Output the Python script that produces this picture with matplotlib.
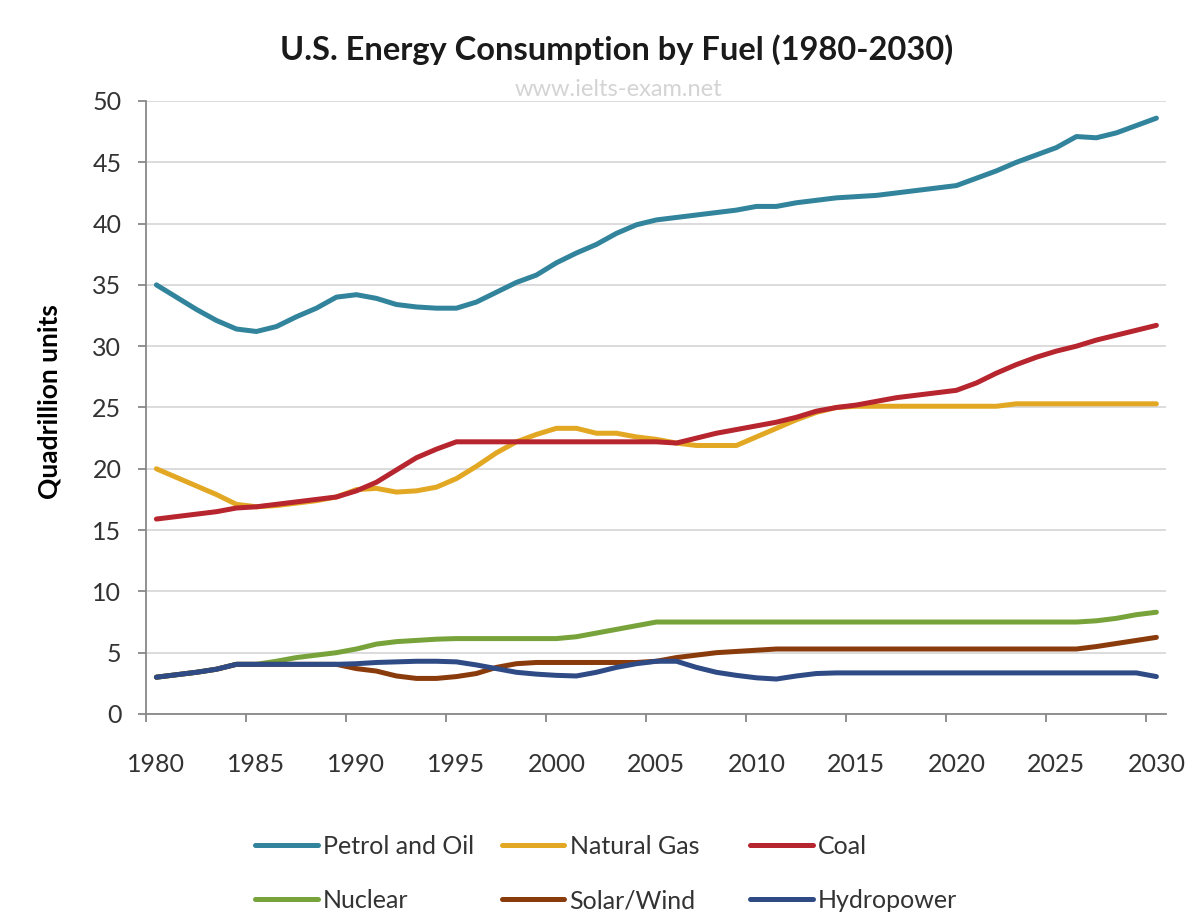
import numpy as np
import matplotlib
matplotlib.use("Agg")
import matplotlib.pyplot as plt
from matplotlib.ticker import MultipleLocator, FixedLocator

plt.rcParams["font.family"] = ["Lato", "DejaVu Sans"]

# Data (quadrillion units, one value per year)
years = list(range(1980, 2031))

petrol = [35.0, 34.0, 33.0, 32.1, 31.4, 31.2, 31.6, 32.4, 33.1, 34.0,
          34.2, 33.9, 33.4, 33.2, 33.1, 33.1, 33.6, 34.4, 35.2, 35.8,
          36.8, 37.6, 38.3, 39.2, 39.9, 40.3, 40.5, 40.7, 40.9, 41.1,
          41.4, 41.4, 41.7, 41.9, 42.1, 42.2, 42.3, 42.5, 42.7, 42.9,
          43.1, 43.7, 44.3, 45.0, 45.6, 46.2, 47.1, 47.0, 47.4, 48.0,
          48.6]
natural_gas = [20.0, 19.3, 18.6, 17.9, 17.1, 16.9, 17.0, 17.2, 17.4, 17.7,
               18.3, 18.4, 18.1, 18.2, 18.5, 19.2, 20.2, 21.3, 22.2, 22.8,
               23.3, 23.3, 22.9, 22.9, 22.6, 22.4, 22.1, 21.9, 21.9, 21.9,
               22.6, 23.3, 24.0, 24.6, 25.0, 25.1, 25.1, 25.1, 25.1, 25.1,
               25.1, 25.1, 25.1, 25.3, 25.3, 25.3, 25.3, 25.3, 25.3, 25.3,
               25.3]
coal = [15.9, 16.1, 16.3, 16.5, 16.8, 16.9, 17.1, 17.3, 17.5, 17.7,
        18.2, 18.9, 19.9, 20.9, 21.6, 22.2, 22.2, 22.2, 22.2, 22.2,
        22.2, 22.2, 22.2, 22.2, 22.2, 22.2, 22.1, 22.5, 22.9, 23.2,
        23.5, 23.8, 24.2, 24.7, 25.0, 25.2, 25.5, 25.8, 26.0, 26.2,
        26.4, 27.0, 27.8, 28.5, 29.1, 29.6, 30.0, 30.5, 30.9, 31.3,
        31.7]
nuclear = [3.0, 3.2, 3.4, 3.65, 4.05, 4.05, 4.3, 4.6, 4.8, 5.0,
           5.3, 5.7, 5.9, 6.0, 6.1, 6.15, 6.15, 6.15, 6.15, 6.15,
           6.15, 6.3, 6.6, 6.9, 7.2, 7.5, 7.5, 7.5, 7.5, 7.5,
           7.5, 7.5, 7.5, 7.5, 7.5, 7.5, 7.5, 7.5, 7.5, 7.5,
           7.5, 7.5, 7.5, 7.5, 7.5, 7.5, 7.5, 7.6, 7.8, 8.1,
           8.3]
solar_wind = [3.0, 3.2, 3.4, 3.65, 4.05, 4.05, 4.05, 4.05, 4.05, 4.05,
              3.7, 3.5, 3.1, 2.9, 2.9, 3.05, 3.3, 3.8, 4.1, 4.2,
              4.2, 4.2, 4.2, 4.2, 4.2, 4.3, 4.6, 4.8, 5.0, 5.1,
              5.2, 5.3, 5.3, 5.3, 5.3, 5.3, 5.3, 5.3, 5.3, 5.3,
              5.3, 5.3, 5.3, 5.3, 5.3, 5.3, 5.3, 5.5, 5.75, 6.0,
              6.25]
hydro = [3.0, 3.2, 3.4, 3.65, 4.05, 4.05, 4.05, 4.05, 4.05, 4.05,
         4.1, 4.2, 4.25, 4.3, 4.3, 4.25, 4.0, 3.7, 3.4, 3.25,
         3.15, 3.1, 3.4, 3.8, 4.1, 4.3, 4.3, 3.8, 3.4, 3.15,
         2.95, 2.85, 3.1, 3.3, 3.35, 3.35, 3.35, 3.35, 3.35, 3.35,
         3.35, 3.35, 3.35, 3.35, 3.35, 3.35, 3.35, 3.35, 3.35, 3.35,
         3.05]

series = [
    ("Petrol and Oil", petrol, "#31849b"),
    ("Natural Gas", natural_gas, "#e3a823"),
    ("Coal", coal, "#b7252e"),
    ("Nuclear", nuclear, "#77a33a"),
    ("Solar/Wind", solar_wind, "#8a3b0c"),
    ("Hydropower", hydro, "#2f4b86"),
]

fig = plt.figure(figsize=(12, 9.24), dpi=100)
ax = fig.add_axes([0.122, 0.2273, 0.850, 0.6634])

handles = []
for name, vals, col in series:
    h, = ax.plot(years, vals, color=col, linewidth=3.6, label=name,
                 solid_capstyle="round", solid_joinstyle="round")
    handles.append(h)

ax.set_xlim(1979.5, 2030.5)
ax.set_ylim(0, 50)
ax.yaxis.set_major_locator(MultipleLocator(5))
ax.grid(axis="y", color="#d9d9d9", linewidth=1.3)
ax.set_axisbelow(True)

# year labels centred on the points, tick marks between categories
ax.xaxis.set_major_locator(FixedLocator(years[::5]))
ax.xaxis.set_minor_locator(FixedLocator([y - 0.5 for y in years[::5]]))
ax.tick_params(axis="x", which="major", length=0, pad=28,
               labelsize=18, labelcolor="#333333")
ax.tick_params(axis="x", which="minor", length=6, width=1.3, color="#888888")
ax.tick_params(axis="y", length=6, width=1.3, color="#888888", pad=12,
               labelsize=18, labelcolor="#333333")

for side in ["top", "right"]:
    ax.spines[side].set_visible(False)
for side in ["left", "bottom"]:
    ax.spines[side].set_color("#888888")
    ax.spines[side].set_linewidth(1.3)

ax.set_ylabel("Quadrillion units", fontsize=19, fontweight="bold")
ax.yaxis.set_label_coords(-0.083, 0.51)

fig.text(0.514, 0.946, "U.S. Energy Consumption by Fuel (1980-2030)",
         ha="center", va="center", fontsize=23.5, fontweight="bold",
         color="#1a1a1a")
fig.text(0.515, 0.903, "www.ielts-exam.net", ha="center", va="center",
         fontsize=17, color="#d4d4d4")

# legend: three columns of two rows, placed like the original
col_x = [0.2125, 0.418, 0.625]
for i, x in enumerate(col_x):
    pair = [handles[i], handles[i + 3]]
    leg = fig.legend(pair, [h.get_label() for h in pair],
                     loc="upper left", bbox_to_anchor=(x, 0.0965),
                     frameon=False, fontsize=18, handlelength=2.5,
                     handletextpad=0.22, labelspacing=1.25,
                     borderpad=0, borderaxespad=0)
    for line in leg.get_lines():
        line.set_linewidth(3.6)
    for t in leg.get_texts():
        t.set_color("#333333")

fig.savefig("out.png", dpi=100)
